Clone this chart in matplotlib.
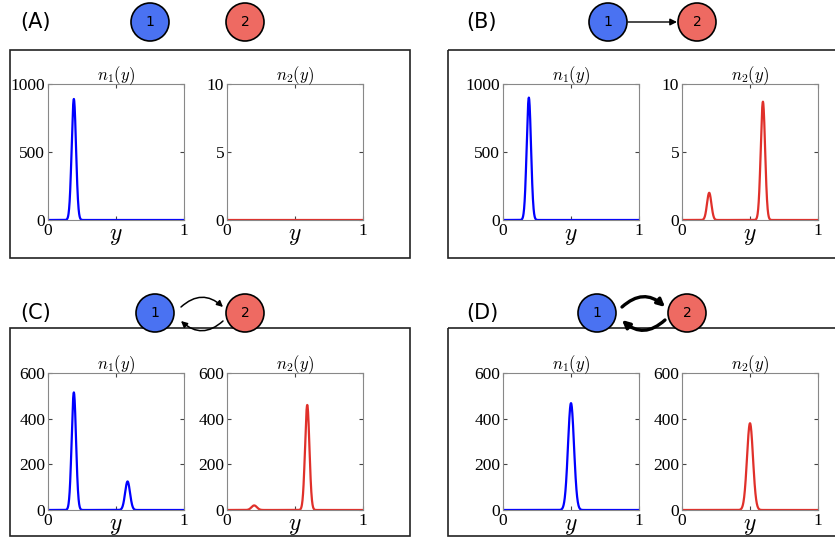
import numpy as np
import matplotlib.pyplot as plt
from matplotlib.patches import Circle, Rectangle, FancyArrowPatch

plt.rcParams['mathtext.fontset'] = 'cm'
plt.rcParams['font.family'] = ['Liberation Serif', 'DejaVu Serif']

# peaks per panel: (centre, height, width) for n1 and n2
n1_peaks = {
    'A': [(0.19, 890, 0.016)],
    'B': [(0.19, 900, 0.016)],
    'C': [(0.19, 515, 0.016), (0.585, 125, 0.018)],
    'D': [(0.50, 468, 0.022)],
}
n2_peaks = {
    'A': [],
    'B': [(0.20, 2.0, 0.016), (0.595, 8.7, 0.016)],
    'C': [(0.20, 20, 0.02), (0.59, 460, 0.016)],
    'D': [(0.50, 380, 0.022)],
}
ylims = {'A': (1000, 10), 'B': (1000, 10), 'C': (600, 600), 'D': (600, 600)}
yticks1 = {'A': [0, 500, 1000], 'B': [0, 500, 1000], 'C': [0, 200, 400, 600], 'D': [0, 200, 400, 600]}
yticks2 = {'A': [0, 5, 10], 'B': [0, 5, 10], 'C': [0, 200, 400, 600], 'D': [0, 200, 400, 600]}

y = np.linspace(0, 1, 1001)

def curve(peaks):
    out = np.zeros_like(y)
    for c, h, w in peaks:
        out += h * np.exp(-0.5 * ((y - c) / w) ** 2)
    return out

W, H = 835, 544
fig = plt.figure(figsize=(W / 100, H / 100), dpi=100)
bg = fig.add_axes([0, 0, 1, 1])
bg.set_xlim(0, W); bg.set_ylim(H, 0); bg.axis('off')

def px_axes(x0, x1, y0, y1):
    return fig.add_axes([x0 / W, 1 - y1 / H, (x1 - x0) / W, (y1 - y0) / H])

blue_c, red_c = '#4a72f2', '#ee6a62'

def node(x, yy, txt, col):
    bg.add_patch(Circle((x, yy), 19, fc=col, ec='black', lw=1.2, zorder=3))
    bg.text(x, yy, txt, ha='center', va='center', fontsize=10, family='DejaVu Sans', zorder=4)

def arc(p0, p1, lw, ms):
    bg.add_patch(FancyArrowPatch(p0, p1, connectionstyle='arc3,rad=-0.45',
                                 arrowstyle='-|>', mutation_scale=ms, color='black',
                                 lw=lw, shrinkA=0, shrinkB=0, zorder=2))

layout = {
    'A': dict(box=(10, 50, 400, 208), ax1=48, ax2=227, ytop=84, ybot=220, lab=(20, 22)),
    'B': dict(box=(448, 50, 400, 208), ax1=503, ax2=682, ytop=84, ybot=220, lab=(466, 22)),
    'C': dict(box=(10, 328, 400, 208), ax1=48, ax2=227, ytop=373, ybot=510, lab=(20, 313)),
    'D': dict(box=(448, 328, 400, 208), ax1=503, ax2=682, ytop=373, ybot=510, lab=(466, 313)),
}

for key, L in layout.items():
    bx, by, bw, bh = L['box']
    bg.add_patch(Rectangle((bx, by), bw, bh, fill=False, ec='#222222', lw=1.2))
    bg.text(*L['lab'], f'({key})', fontsize=15, family='DejaVu Sans', va='center')
    for i, (x0, peaks, col, ticks) in enumerate([
            (L['ax1'], n1_peaks[key], '#0000ff', yticks1[key]),
            (L['ax2'], n2_peaks[key], '#e0302a', yticks2[key])]):
        ax = px_axes(x0, x0 + 136, L['ytop'], L['ybot'])
        ax.plot(y, curve(peaks), color=col, lw=1.6)
        ax.set_xlim(0, 1); ax.set_ylim(0, ylims[key][i])
        ax.set_xticks([0, 0.5, 1]); ax.set_xticklabels(['0', '', '1'])
        ax.set_yticks(ticks)
        ax.tick_params(direction='in', top=True, right=True, labelsize=12.5, length=3, pad=2,
                       color='#444444')
        for s in ax.spines.values():
            s.set_color('#888888')
        ax.set_title(f'$n_{i+1}(y)$', fontsize=12, pad=3)
        ax.set_xlabel('$y$', fontsize=17, labelpad=-9)

# network diagrams
node(150, 22, '1', blue_c); node(245, 22, '2', red_c)
node(608, 22, '1', blue_c); node(697, 22, '2', red_c)
bg.add_patch(FancyArrowPatch((628, 22), (677, 22), arrowstyle='-|>', mutation_scale=10,
                             color='black', lw=1, shrinkA=0, shrinkB=0))
node(155, 313, '1', blue_c); node(245, 313, '2', red_c)
arc((181, 307), (223, 307), 1.1, 9)
arc((223, 321), (181, 321), 1.1, 9)
node(597, 313, '1', blue_c); node(687, 313, '2', red_c)
arc((622, 307), (665, 307), 2.4, 11)
arc((665, 320), (622, 320), 2.4, 11)

fig.savefig('out.png', dpi=100)
